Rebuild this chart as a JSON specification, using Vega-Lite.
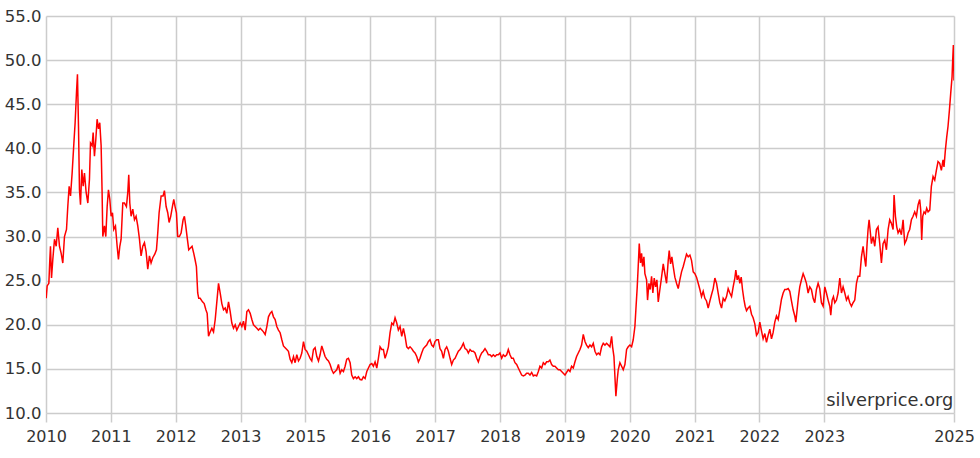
{
"$schema": "https://vega.github.io/schema/vega-lite/v6.json",
"width": 908, "height": 397,
"autosize": "none",
"padding": {"left": 46, "top": 16, "right": 26, "bottom": 45},
"background": "white",
"config": {"view": {"stroke": null}, "font": "DejaVu Sans"},
"layer": [
{"data": {"values": [
{"t":0.003,"price":23.0},{"t":0.018,"price":24.4},{"t":0.044,"price":24.7},{"t":0.059,"price":27.4},{"t":0.069,"price":28.9},{"t":0.085,"price":25.3},{"t":0.105,"price":27.4},{"t":0.131,"price":29.7},{"t":0.157,"price":28.9},{"t":0.182,"price":31.0},{"t":0.208,"price":28.9},{"t":0.234,"price":28.1},{"t":0.259,"price":27.0},{"t":0.285,"price":30.0},{"t":0.316,"price":30.8},{"t":0.336,"price":33.4},{"t":0.357,"price":35.7},{"t":0.378,"price":34.6},{"t":0.403,"price":37.2},{"t":0.429,"price":40.5},{"t":0.449,"price":42.9},{"t":0.470,"price":46.3},{"t":0.485,"price":48.4},{"t":0.501,"price":42.5},{"t":0.516,"price":35.3},{"t":0.532,"price":33.6},{"t":0.552,"price":37.6},{"t":0.573,"price":35.7},{"t":0.593,"price":37.2},{"t":0.619,"price":35.0},{"t":0.645,"price":33.8},{"t":0.670,"price":36.5},{"t":0.686,"price":40.6},{"t":0.711,"price":40.3},{"t":0.727,"price":41.8},{"t":0.747,"price":39.1},{"t":0.768,"price":41.0},{"t":0.788,"price":43.3},{"t":0.809,"price":42.2},{"t":0.829,"price":42.9},{"t":0.850,"price":40.3},{"t":0.865,"price":35.0},{"t":0.876,"price":30.0},{"t":0.901,"price":31.2},{"t":0.922,"price":30.0},{"t":0.943,"price":33.4},{"t":0.963,"price":35.3},{"t":0.984,"price":34.2},{"t":1.004,"price":32.3},{"t":1.025,"price":32.7},{"t":1.045,"price":30.8},{"t":1.071,"price":31.2},{"t":1.097,"price":28.9},{"t":1.117,"price":27.4},{"t":1.138,"price":28.9},{"t":1.158,"price":29.7},{"t":1.184,"price":33.8},{"t":1.210,"price":33.8},{"t":1.240,"price":33.4},{"t":1.261,"price":35.0},{"t":1.276,"price":37.0},{"t":1.292,"price":33.8},{"t":1.312,"price":32.3},{"t":1.338,"price":33.1},{"t":1.364,"price":31.9},{"t":1.389,"price":32.3},{"t":1.415,"price":31.2},{"t":1.441,"price":29.7},{"t":1.466,"price":27.8},{"t":1.492,"price":28.9},{"t":1.518,"price":29.3},{"t":1.543,"price":28.3},{"t":1.569,"price":26.3},{"t":1.595,"price":27.8},{"t":1.620,"price":27.0},{"t":1.646,"price":27.6},{"t":1.677,"price":28.0},{"t":1.703,"price":28.5},{"t":1.723,"price":30.4},{"t":1.744,"price":32.7},{"t":1.775,"price":34.6},{"t":1.805,"price":34.6},{"t":1.826,"price":35.2},{"t":1.852,"price":33.4},{"t":1.877,"price":32.7},{"t":1.898,"price":31.6},{"t":1.923,"price":32.3},{"t":1.949,"price":33.4},{"t":1.970,"price":34.2},{"t":1.990,"price":33.4},{"t":2.011,"price":32.7},{"t":2.031,"price":30.0},{"t":2.057,"price":30.0},{"t":2.083,"price":30.4},{"t":2.114,"price":31.9},{"t":2.134,"price":32.3},{"t":2.155,"price":31.2},{"t":2.175,"price":30.0},{"t":2.201,"price":28.5},{"t":2.227,"price":28.7},{"t":2.252,"price":28.9},{"t":2.278,"price":28.1},{"t":2.298,"price":27.4},{"t":2.319,"price":26.6},{"t":2.339,"price":23.6},{"t":2.355,"price":23.0},
{"t":2.377,"price":23.0},{"t":2.413,"price":22.6},{"t":2.439,"price":22.4},{"t":2.465,"price":21.7},{"t":2.485,"price":21.3},{"t":2.506,"price":18.7},{"t":2.532,"price":19.2},{"t":2.557,"price":19.6},{"t":2.583,"price":19.2},{"t":2.609,"price":20.6},{"t":2.634,"price":22.6},{"t":2.660,"price":24.7},{"t":2.686,"price":23.6},{"t":2.711,"price":22.4},{"t":2.737,"price":21.7},{"t":2.763,"price":21.9},{"t":2.788,"price":21.3},{"t":2.814,"price":22.6},{"t":2.840,"price":21.5},{"t":2.865,"price":20.2},{"t":2.891,"price":19.6},{"t":2.917,"price":20.0},{"t":2.942,"price":19.4},{"t":2.968,"price":19.8},{"t":2.994,"price":20.2},{"t":3.020,"price":19.8},{"t":3.045,"price":20.4},{"t":3.071,"price":19.4},{"t":3.097,"price":21.5},{"t":3.122,"price":21.7},{"t":3.148,"price":21.3},{"t":3.174,"price":20.6},{"t":3.199,"price":20.0},{"t":3.225,"price":19.8},{"t":3.251,"price":19.6},{"t":3.276,"price":19.4},{"t":3.302,"price":19.6},{"t":3.328,"price":19.4},{"t":3.353,"price":19.2},{"t":3.379,"price":18.9},{"t":3.405,"price":19.8},{"t":3.430,"price":20.9},{"t":3.456,"price":21.3},{"t":3.482,"price":21.5},{"t":3.507,"price":20.9},{"t":3.533,"price":20.6},{"t":3.559,"price":19.8},{"t":3.584,"price":19.4},{"t":3.610,"price":19.1},{"t":3.636,"price":18.3},{"t":3.661,"price":17.6},{"t":3.687,"price":17.4},{"t":3.713,"price":17.2},{"t":3.738,"price":17.0},{"t":3.764,"price":16.1},{"t":3.790,"price":15.7},{"t":3.816,"price":16.4},{"t":3.841,"price":15.7},{"t":3.867,"price":16.6},{"t":3.893,"price":15.9},{"t":3.918,"price":16.2},{"t":3.944,"price":16.8},{"t":3.970,"price":18.1},{"t":3.995,"price":17.2},{"t":4.021,"price":17.0},{"t":4.047,"price":16.6},{"t":4.072,"price":16.2},{"t":4.098,"price":15.9},{"t":4.124,"price":17.2},{"t":4.149,"price":17.4},{"t":4.175,"price":16.4},{"t":4.201,"price":15.9},{"t":4.226,"price":16.6},{"t":4.252,"price":17.6},{"t":4.278,"price":17.0},{"t":4.303,"price":16.4},{"t":4.329,"price":16.1},{"t":4.355,"price":15.9},{"t":4.381,"price":15.5},{"t":4.406,"price":14.9},{"t":4.432,"price":14.5},{"t":4.458,"price":14.7},{"t":4.483,"price":14.9},{"t":4.509,"price":15.5},{"t":4.535,"price":14.5},{"t":4.560,"price":14.9},{"t":4.586,"price":14.7},{"t":4.612,"price":15.3},{"t":4.637,"price":16.1},{"t":4.663,"price":16.2},{"t":4.689,"price":15.7},
{"t":4.714,"price":14.3},{"t":4.740,"price":13.9},{"t":4.766,"price":14.1},{"t":4.791,"price":13.9},{"t":4.817,"price":14.1},{"t":4.843,"price":13.8},{"t":4.869,"price":13.75},{"t":4.894,"price":14.1},{"t":4.920,"price":13.9},{"t":4.946,"price":14.7},{"t":4.971,"price":15.1},{"t":4.997,"price":15.5},{"t":5.023,"price":15.6},{"t":5.048,"price":15.3},{"t":5.074,"price":15.8},{"t":5.100,"price":15.1},{"t":5.125,"price":16.2},{"t":5.151,"price":17.5},{"t":5.177,"price":17.2},{"t":5.202,"price":17.2},{"t":5.228,"price":16.2},{"t":5.254,"price":16.8},{"t":5.279,"price":17.5},{"t":5.305,"price":19.1},{"t":5.331,"price":20.2},{"t":5.356,"price":20.0},{"t":5.382,"price":20.8},{"t":5.408,"price":20.2},{"t":5.433,"price":19.4},{"t":5.459,"price":19.8},{"t":5.485,"price":18.7},{"t":5.511,"price":19.6},{"t":5.536,"price":18.7},{"t":5.562,"price":17.5},{"t":5.588,"price":17.3},{"t":5.613,"price":17.5},{"t":5.639,"price":17.3},{"t":5.665,"price":17.0},{"t":5.690,"price":16.8},{"t":5.716,"price":16.4},{"t":5.742,"price":15.8},{"t":5.767,"price":16.2},{"t":5.793,"price":16.8},{"t":5.819,"price":17.3},{"t":5.844,"price":17.5},{"t":5.870,"price":17.7},{"t":5.896,"price":18.1},{"t":5.921,"price":18.3},{"t":5.947,"price":17.7},{"t":5.973,"price":17.5},{"t":5.998,"price":18.1},{"t":6.024,"price":18.3},{"t":6.050,"price":18.3},{"t":6.075,"price":17.3},{"t":6.101,"price":17.0},{"t":6.127,"price":16.2},{"t":6.153,"price":17.2},{"t":6.178,"price":17.5},{"t":6.204,"price":17.0},{"t":6.230,"price":16.2},{"t":6.255,"price":15.5},{"t":6.281,"price":16.0},{"t":6.307,"price":16.2},{"t":6.332,"price":16.6},{"t":6.358,"price":17.0},{"t":6.384,"price":17.2},{"t":6.409,"price":17.5},{"t":6.435,"price":17.9},{"t":6.461,"price":17.3},{"t":6.486,"price":17.2},{"t":6.512,"price":16.8},{"t":6.538,"price":17.2},{"t":6.563,"price":17.0},{"t":6.589,"price":17.0},{"t":6.615,"price":16.8},{"t":6.641,"price":16.2},{"t":6.666,"price":15.8},{"t":6.692,"price":16.4},{"t":6.718,"price":16.8},{"t":6.743,"price":17.0},{"t":6.769,"price":17.3},{"t":6.795,"price":17.0},{"t":6.820,"price":16.6},{"t":6.846,"price":16.6},{"t":6.872,"price":16.4},{"t":6.897,"price":16.6},{"t":6.923,"price":16.4},{"t":6.949,"price":16.6},{"t":6.974,"price":16.6},{"t":7.000,"price":16.8},{"t":7.026,"price":16.2},{"t":7.051,"price":16.6},{"t":7.077,"price":16.4},{"t":7.103,"price":16.6},{"t":7.128,"price":17.2},
{"t":7.154,"price":16.6},{"t":7.179,"price":16.2},{"t":7.205,"price":16.2},{"t":7.231,"price":15.7},{"t":7.257,"price":15.5},{"t":7.282,"price":15.1},{"t":7.308,"price":14.7},{"t":7.334,"price":14.3},{"t":7.359,"price":14.2},{"t":7.385,"price":14.3},{"t":7.411,"price":14.5},{"t":7.436,"price":14.5},{"t":7.462,"price":14.3},{"t":7.488,"price":14.6},{"t":7.514,"price":14.2},{"t":7.539,"price":14.3},{"t":7.565,"price":14.2},{"t":7.591,"price":14.7},{"t":7.616,"price":15.3},{"t":7.642,"price":15.1},{"t":7.668,"price":15.7},{"t":7.693,"price":15.5},{"t":7.719,"price":15.8},{"t":7.745,"price":15.8},{"t":7.770,"price":16.0},{"t":7.796,"price":15.5},{"t":7.822,"price":15.3},{"t":7.847,"price":15.3},{"t":7.873,"price":15.1},{"t":7.899,"price":14.9},{"t":7.924,"price":14.9},{"t":7.950,"price":14.7},{"t":7.976,"price":14.5},{"t":8.002,"price":14.3},{"t":8.027,"price":14.6},{"t":8.053,"price":14.9},{"t":8.079,"price":14.7},{"t":8.104,"price":15.3},{"t":8.130,"price":15.1},{"t":8.156,"price":15.8},{"t":8.181,"price":16.4},{"t":8.207,"price":16.8},{"t":8.233,"price":17.2},{"t":8.258,"price":17.7},{"t":8.284,"price":18.9},{"t":8.310,"price":18.1},{"t":8.335,"price":17.7},{"t":8.361,"price":17.4},{"t":8.387,"price":17.7},{"t":8.413,"price":17.5},{"t":8.438,"price":17.9},{"t":8.464,"price":17.0},{"t":8.490,"price":16.6},{"t":8.515,"price":16.8},{"t":8.541,"price":16.6},{"t":8.567,"price":17.5},{"t":8.592,"price":17.9},{"t":8.618,"price":17.7},{"t":8.644,"price":17.9},{"t":8.669,"price":17.7},{"t":8.695,"price":17.5},{"t":8.721,"price":18.7},{"t":8.736,"price":17.5},{"t":8.757,"price":16.4},{"t":8.772,"price":14.1},{"t":8.787,"price":11.9},{"t":8.808,"price":13.8},{"t":8.823,"price":14.9},{"t":8.849,"price":15.7},{"t":8.875,"price":15.3},{"t":8.900,"price":14.9},{"t":8.926,"price":15.5},{"t":8.952,"price":17.2},{"t":8.977,"price":17.5},{"t":9.003,"price":17.7},{"t":9.029,"price":17.5},{"t":9.054,"price":18.3},{"t":9.080,"price":19.8},{"t":9.095,"price":21.7},{"t":9.116,"price":24.3},{"t":9.131,"price":26.6},{"t":9.147,"price":29.2},{"t":9.167,"price":27.0},{"t":9.183,"price":28.1},{"t":9.198,"price":26.6},{"t":9.219,"price":27.7},{"t":9.234,"price":25.8},{"t":9.260,"price":25.1},{"t":9.275,"price":22.8},{"t":9.296,"price":24.7},{"t":9.316,"price":24.0},{"t":9.337,"price":25.5},{"t":9.357,"price":23.6},{"t":9.378,"price":25.3},{"t":9.399,"price":24.3},{"t":9.419,"price":25.1},{"t":9.440,"price":22.6},
{"t":9.465,"price":24.0},{"t":9.491,"price":25.4},{"t":9.517,"price":26.9},{"t":9.542,"price":25.8},{"t":9.568,"price":24.7},{"t":9.594,"price":27.3},{"t":9.609,"price":28.4},{"t":9.630,"price":26.9},{"t":9.650,"price":27.7},{"t":9.671,"price":26.6},{"t":9.696,"price":25.4},{"t":9.722,"price":24.7},{"t":9.748,"price":24.1},{"t":9.773,"price":25.1},{"t":9.799,"price":26.0},{"t":9.825,"price":26.6},{"t":9.850,"price":27.3},{"t":9.876,"price":28.0},{"t":9.902,"price":27.7},{"t":9.928,"price":27.9},{"t":9.953,"price":27.3},{"t":9.979,"price":26.0},{"t":10.005,"price":25.8},{"t":10.030,"price":25.4},{"t":10.056,"price":24.7},{"t":10.082,"price":24.0},{"t":10.107,"price":23.2},{"t":10.133,"price":23.8},{"t":10.159,"price":23.0},{"t":10.184,"price":22.7},{"t":10.210,"price":21.9},{"t":10.236,"price":22.7},{"t":10.261,"price":23.4},{"t":10.287,"price":24.1},{"t":10.313,"price":25.3},{"t":10.339,"price":24.7},{"t":10.364,"price":23.6},{"t":10.390,"price":22.5},{"t":10.416,"price":21.9},{"t":10.441,"price":23.0},{"t":10.467,"price":22.7},{"t":10.493,"price":23.2},{"t":10.518,"price":24.1},{"t":10.544,"price":23.6},{"t":10.570,"price":23.2},{"t":10.595,"price":24.3},{"t":10.621,"price":25.3},{"t":10.636,"price":26.2},{"t":10.657,"price":25.1},{"t":10.677,"price":25.6},{"t":10.698,"price":24.7},{"t":10.719,"price":25.4},{"t":10.739,"price":24.0},{"t":10.760,"price":22.9},{"t":10.780,"price":22.1},{"t":10.801,"price":21.6},{"t":10.826,"price":21.9},{"t":10.852,"price":22.1},{"t":10.878,"price":21.2},{"t":10.903,"price":20.8},{"t":10.929,"price":20.1},{"t":10.955,"price":18.8},{"t":10.980,"price":19.1},{"t":11.006,"price":20.3},{"t":11.032,"price":19.3},{"t":11.057,"price":18.4},{"t":11.083,"price":19.0},{"t":11.109,"price":18.0},{"t":11.134,"price":18.8},{"t":11.160,"price":19.5},{"t":11.186,"price":18.4},{"t":11.211,"price":19.1},{"t":11.237,"price":20.3},{"t":11.263,"price":21.0},{"t":11.289,"price":20.6},{"t":11.314,"price":21.7},{"t":11.340,"price":22.9},{"t":11.366,"price":23.6},{"t":11.391,"price":24.0},{"t":11.417,"price":24.0},{"t":11.443,"price":24.1},{"t":11.468,"price":23.8},{"t":11.494,"price":22.7},{"t":11.520,"price":21.7},{"t":11.545,"price":21.0},{"t":11.561,"price":20.3},{"t":11.581,"price":21.7},{"t":11.602,"price":23.2},{"t":11.622,"price":24.3},{"t":11.648,"price":25.1},{"t":11.674,"price":25.8},{"t":11.699,"price":25.3},{"t":11.725,"price":24.7},{"t":11.751,"price":23.6},{"t":11.776,"price":24.3},{"t":11.802,"price":24.0},{"t":11.828,"price":23.0},{"t":11.853,"price":22.5},{"t":11.879,"price":24.0},{"t":11.905,"price":24.7},{"t":11.930,"price":24.1},
{"t":11.956,"price":22.5},{"t":11.982,"price":22.1},{"t":12.008,"price":24.3},{"t":12.033,"price":23.6},{"t":12.059,"price":22.8},{"t":12.085,"price":22.1},{"t":12.100,"price":21.1},{"t":12.121,"price":22.8},{"t":12.141,"price":23.2},{"t":12.162,"price":22.5},{"t":12.188,"price":22.8},{"t":12.213,"price":23.6},{"t":12.239,"price":25.3},{"t":12.265,"price":23.6},{"t":12.290,"price":24.3},{"t":12.316,"price":23.6},{"t":12.342,"price":22.8},{"t":12.367,"price":23.2},{"t":12.393,"price":22.5},{"t":12.419,"price":22.1},{"t":12.444,"price":22.5},{"t":12.470,"price":22.8},{"t":12.496,"price":24.7},{"t":12.521,"price":25.5},{"t":12.547,"price":25.5},{"t":12.573,"price":27.7},{"t":12.598,"price":28.9},{"t":12.624,"price":27.4},{"t":12.640,"price":26.6},{"t":12.660,"price":29.2},{"t":12.675,"price":30.8},{"t":12.691,"price":31.9},{"t":12.711,"price":30.4},{"t":12.727,"price":29.2},{"t":12.752,"price":30.0},{"t":12.778,"price":28.9},{"t":12.804,"price":30.8},{"t":12.829,"price":31.1},{"t":12.855,"price":29.2},{"t":12.881,"price":27.0},{"t":12.906,"price":29.2},{"t":12.932,"price":29.6},{"t":12.958,"price":28.5},{"t":12.984,"price":30.8},{"t":13.009,"price":31.9},{"t":13.035,"price":31.5},{"t":13.061,"price":30.8},{"t":13.076,"price":34.7},{"t":13.097,"price":32.3},{"t":13.117,"price":31.1},{"t":13.138,"price":30.4},{"t":13.163,"price":30.8},{"t":13.189,"price":30.2},{"t":13.215,"price":31.9},{"t":13.240,"price":29.2},{"t":13.266,"price":29.6},{"t":13.292,"price":30.4},{"t":13.317,"price":30.8},{"t":13.343,"price":31.9},{"t":13.369,"price":32.3},{"t":13.394,"price":32.8},{"t":13.420,"price":32.3},{"t":13.446,"price":33.6},{"t":13.471,"price":34.2},{"t":13.487,"price":33.0},{"t":13.502,"price":29.6},{"t":13.518,"price":32.3},{"t":13.538,"price":32.8},{"t":13.559,"price":32.6},{"t":13.579,"price":33.2},{"t":13.600,"price":32.8},{"t":13.626,"price":33.0},{"t":13.651,"price":35.7},{"t":13.677,"price":36.8},{"t":13.703,"price":36.4},{"t":13.728,"price":37.5},{"t":13.754,"price":38.5},{"t":13.780,"price":38.3},{"t":13.805,"price":37.5},{"t":13.831,"price":38.7},{"t":13.846,"price":37.9},{"t":13.867,"price":39.8},{"t":13.888,"price":41.3},{"t":13.908,"price":42.5},{"t":13.929,"price":44.3},{"t":13.949,"price":46.2},{"t":13.970,"price":48.1},{"t":13.980,"price":50.0},{"t":13.990,"price":51.7},{"t":14.000,"price":47.7}
]},
"mark": {"type": "line", "color": "#ff0000", "strokeWidth": 1.5, "clip": true},
"encoding": {
"x": {"field": "t", "type": "quantitative",
 "scale": {"domain": [0, 14], "nice": false, "zero": false},
 "axis": {"values": [0,1,2,3,4,5,6,7,8,9,10,11,12,14], "labelExpr": "datum.value < 4 ? '' + (2010 + datum.value) : '' + (2011 + datum.value)", "title": null, "grid": true, "gridColor": "#cccccc", "gridWidth": 1.5, "domain": false, "ticks": true, "tickColor": "#cccccc", "tickWidth": 1.5, "tickSize": 9, "labelFontSize": 16, "labelFont": "DejaVu Sans", "labelColor": "#333333", "labelPadding": 6, "labelOverlap": false, "labelFlush": false, "labelBound": false}},
"y": {"field": "price", "type": "quantitative",
 "scale": {"domain": [10, 55], "nice": false, "zero": false},
 "axis": {"values": [10,15,20,25,30,35,40,45,50,55], "format": ".1f", "title": null, "grid": true, "gridColor": "#cccccc", "gridWidth": 1.5, "domain": false, "ticks": false, "labelFontSize": 16.5, "labelFont": "DejaVu Sans", "labelColor": "#333333", "labelPadding": 5, "labelOverlap": false, "labelFlush": false}}
}},
{"data": {"values": [{"label": "silverprice.org"}]},
 "mark": {"type": "text", "align": "right", "baseline": "alphabetic", "fontSize": 17.8, "font": "DejaVu Sans", "color": "#333333"},
 "encoding": {
  "x": {"datum": 13.99, "type": "quantitative"},
  "y": {"datum": 10.75, "type": "quantitative"},
  "text": {"field": "label", "type": "nominal"}
 }}
]
}
